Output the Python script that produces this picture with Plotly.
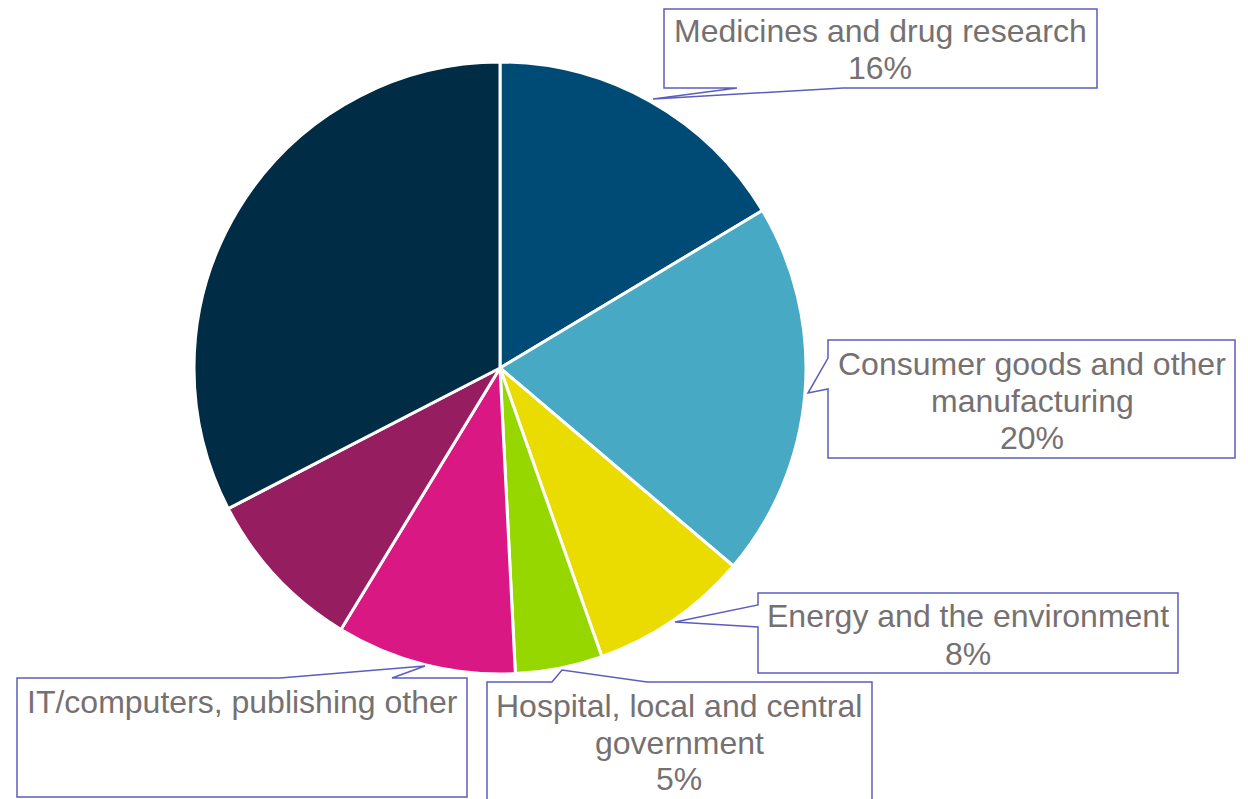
import plotly.graph_objects as go

# ---- data ----
sectors = [
    "Medicines and drug research",
    "Consumer goods and other manufacturing",
    "Energy and the environment",
    "Hospital, local and central government",
    "IT/computers, publishing other",
    "Sector F",
    "Sector G",
]
shares = [16.4, 19.8, 8.4, 4.6, 9.5, 8.7, 32.6]
colors = ["#004B76", "#48A9C5", "#EADB00", "#97D700", "#DA1884", "#971D61", "#002C45"]

# callout text lines (label lines + percent line)
callout_lines = [
    ["Medicines and drug research", "16%"],
    ["Consumer goods and other", "manufacturing", "20%"],
    ["Energy and the environment", "8%"],
    ["Hospital, local and central", "government", "5%"],
    ["IT/computers, publishing other"],
]

# page has an 8px body margin; figure sized to fill the rest of the window
OFF = 8
W, H = 1248 - OFF, 799 - OFF


def px(x):
    return (x - OFF) / W


def py(y):
    return 1 - (y - OFF) / H


# pie placement (screen pixels): centre and radius
cx, cy, r = 500, 368, 306

fig = go.Figure(
    go.Pie(
        labels=sectors,
        values=shares,
        sort=False,
        direction="clockwise",
        rotation=0,
        marker=dict(colors=colors, line=dict(color="white", width=3)),
        textinfo="none",
        hoverinfo="label+percent",
        showlegend=False,
        domain=dict(x=[px(cx - r), px(cx + r)], y=[py(cy + r), py(cy - r)]),
    )
)

# callout outlines (screen pixels), box with a wedge pointer
callouts = [
    [(664, 9), (1097, 9), (1097, 88), (843, 88), (653, 99), (737, 88), (664, 88)],
    [(828, 340), (1235, 340), (1235, 458), (828, 458), (828, 389), (808, 393), (828, 358)],
    [(758, 593), (1178, 593), (1178, 673), (758, 673), (758, 627), (675, 622), (758, 605)],
    [(487, 682), (552, 682), (562, 670), (647, 682), (872, 682), (872, 815), (487, 815)],
    [(17, 678), (280, 678), (425, 666), (392, 678), (467, 678), (467, 797), (17, 797)],
]

shapes = []
for poly in callouts:
    path = "M " + " L ".join(f"{px(x):.5f},{py(y):.5f}" for x, y in poly) + " Z"
    shapes.append(
        dict(
            type="path",
            xref="paper",
            yref="paper",
            path=path,
            fillcolor="white",
            line=dict(color="#5B5EBD", width=1.5),
            layer="above",
        )
    )

# text positions (screen pixel centres) for each line
text_pos = [
    [(880, 31), (880, 68)],
    [(1032, 364), (1032, 401), (1032, 438)],
    [(968, 616), (968, 654)],
    [(679, 706), (679, 743), (679, 779)],
    [(242, 702)],
]

annotations = []
for lines, poss in zip(callout_lines, text_pos):
    for t, (x, y) in zip(lines, poss):
        annotations.append(
            dict(
                text=t,
                x=px(x),
                y=py(y),
                xref="paper",
                yref="paper",
                xanchor="center",
                yanchor="middle",
                showarrow=False,
                font=dict(family="Liberation Sans, Arial, sans-serif", size=32, color="#767171"),
            )
        )

fig.update_layout(
    width=W,
    height=H,
    margin=dict(l=0, r=0, t=0, b=0),
    paper_bgcolor="white",
    plot_bgcolor="white",
    shapes=shapes,
    annotations=annotations,
)

fig.write_html("out.html")
